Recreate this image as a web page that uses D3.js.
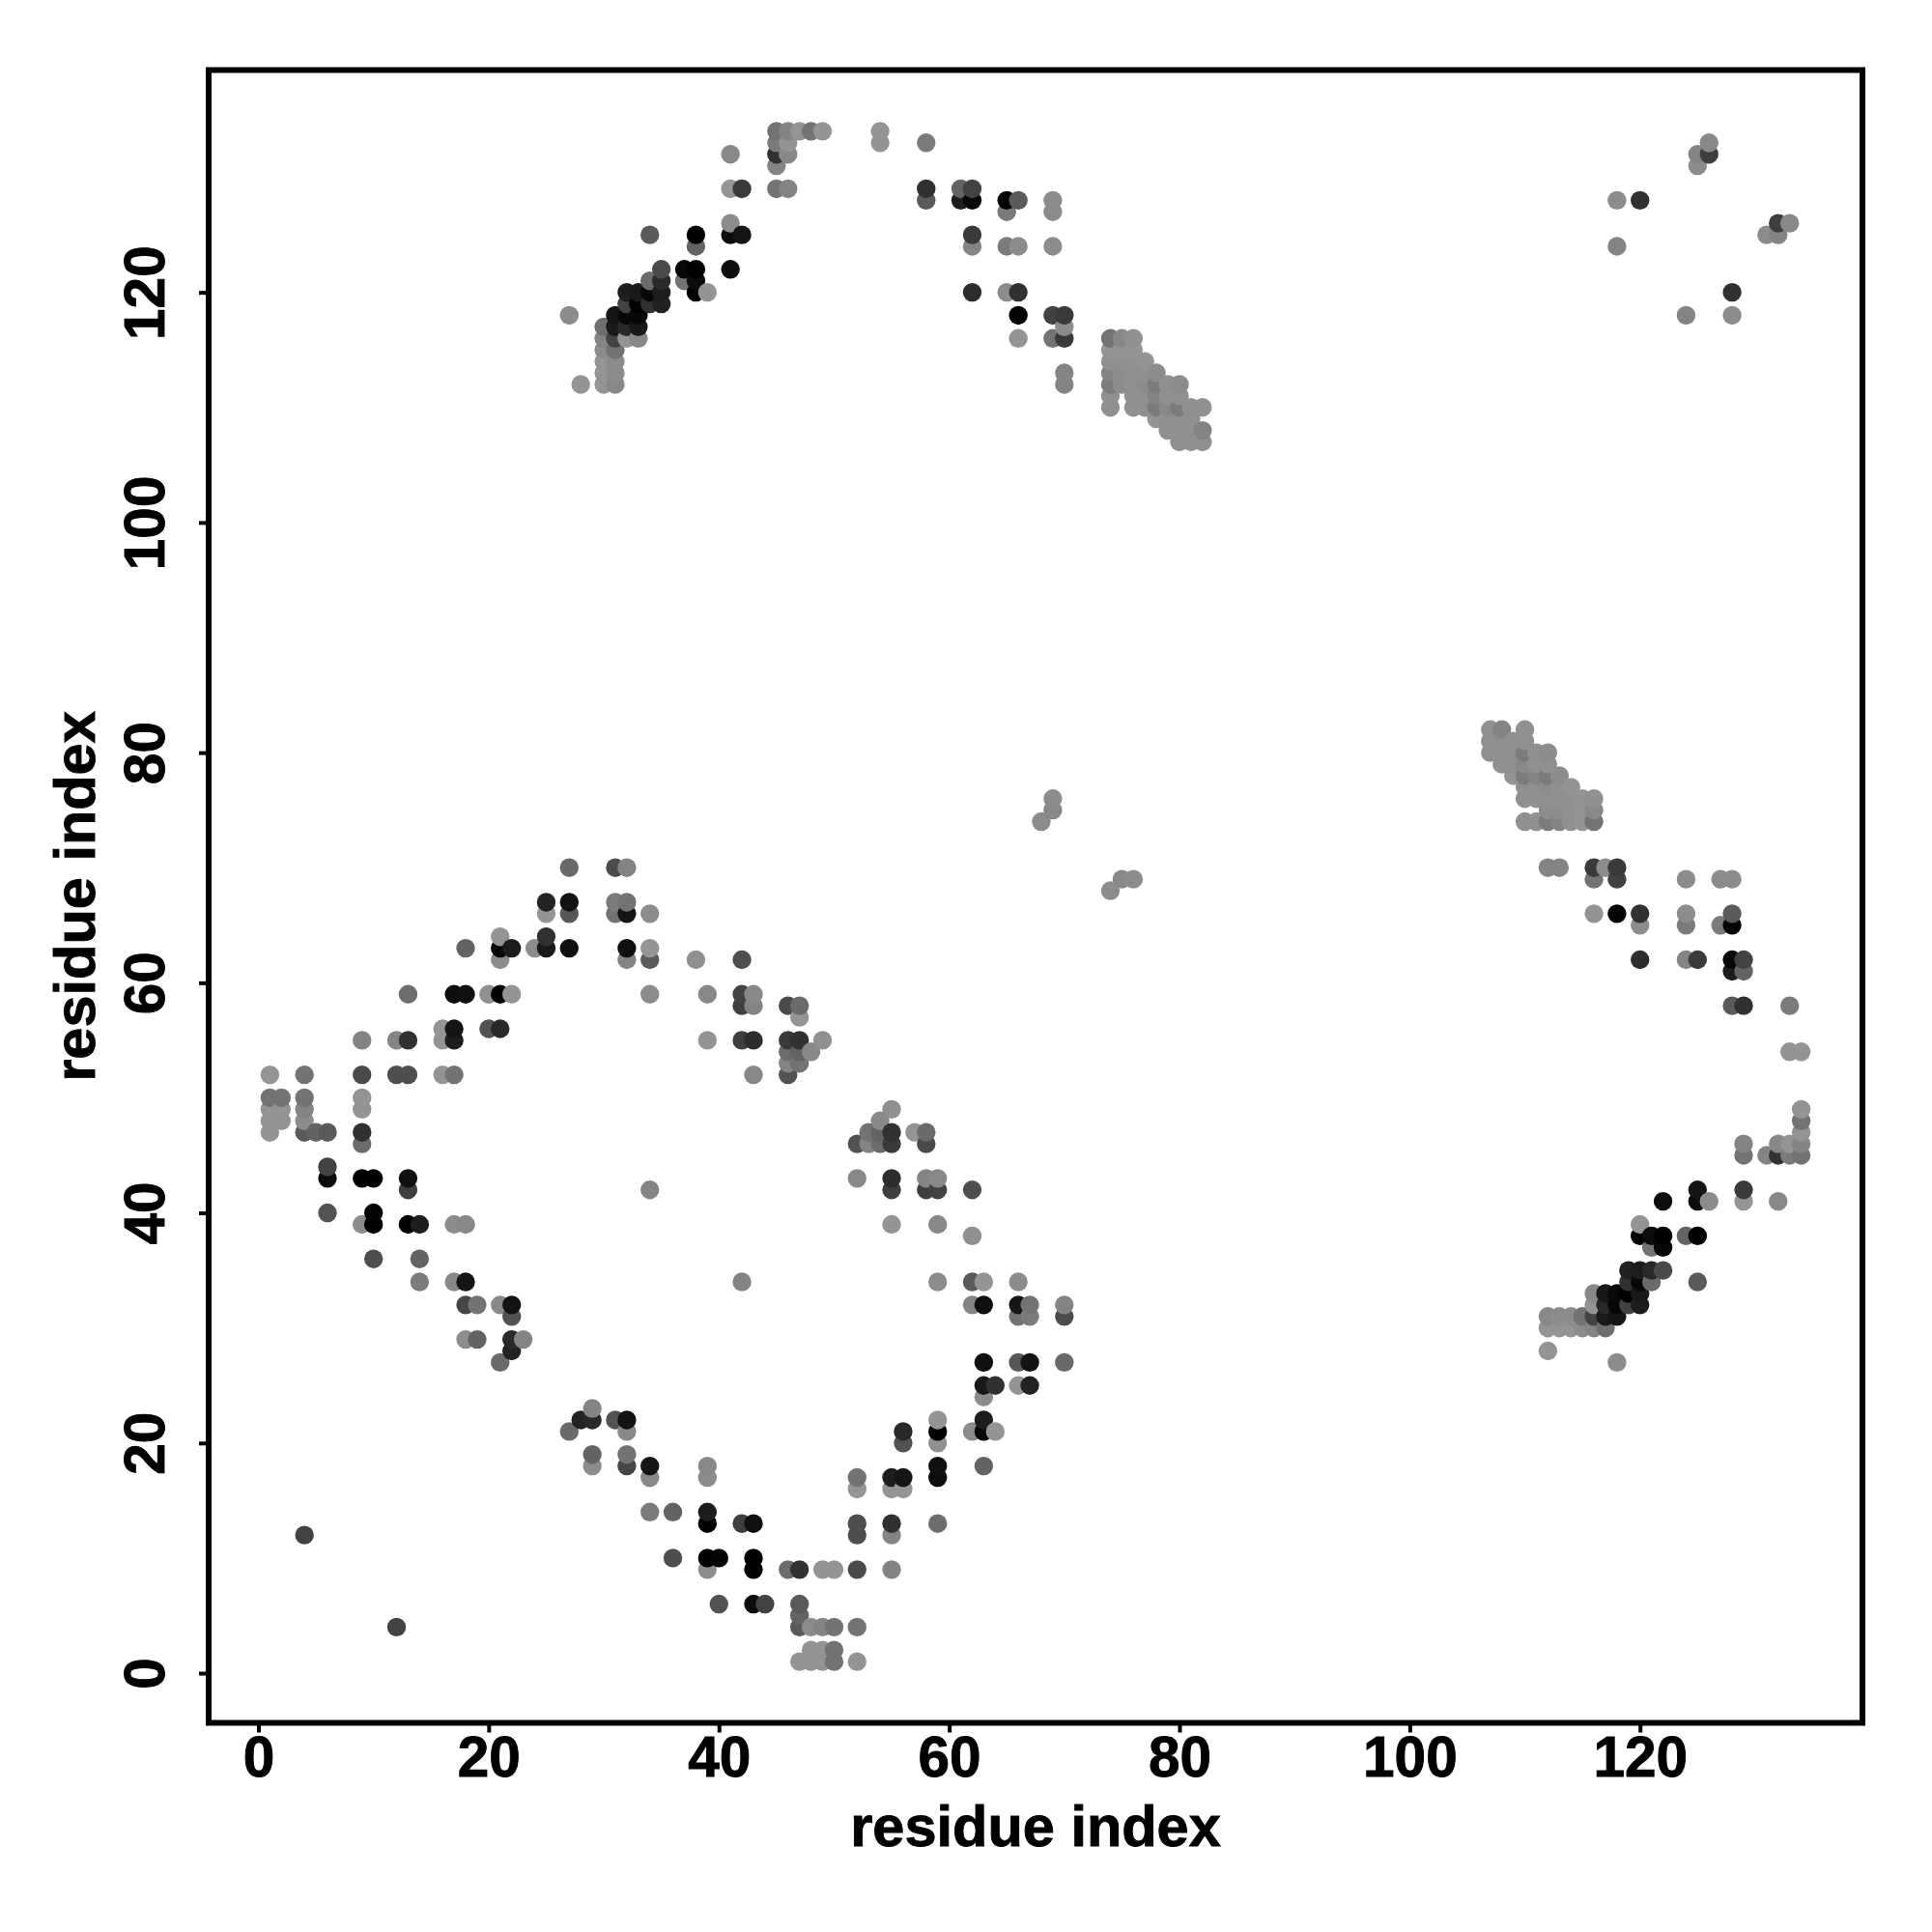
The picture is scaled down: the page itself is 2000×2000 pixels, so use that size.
<!DOCTYPE html>
<html>
<head>
<meta charset="utf-8">
<script src="https://cdnjs.cloudflare.com/ajax/libs/d3/7.8.5/d3.min.js"></script>
<style>html,body{margin:0;padding:0;background:#fff}svg{display:block}</style>
</head>
<body>
<svg id="chart" width="2000" height="2000"></svg>
<script>
// Each entry: [residue i, residue j, contact level] with i < j; the map is symmetric.
// Level runs from 0 (strongest, black) to 0x90 (weakest, lightest gray).
const nTerminalContacts = [
[1,47,0x90],[1,48,0x90],[1,49,0x90],[1,50,0x70],[1,52,0x90],
[2,48,0x90],[2,49,0x90],[2,50,0x70],
[4,12,0x40],[4,47,0x58],[4,48,0x88],[4,49,0x80],[4,50,0x70],[4,52,0x70],
[5,47,0x60],
[6,40,0x50],[6,43,0x0c],[6,44,0x40],[6,47,0x58],
[9,39,0x88],[9,43,0x00],[9,46,0x68],[9,47,0x30],[9,49,0x90],[9,50,0x90],[9,52,0x48],[9,55,0x80],
[10,36,0x4c],[10,39,0x00],[10,40,0x04],[10,43,0x00],
[12,52,0x4c],[12,55,0x80],
[13,39,0x00],[13,42,0x3c],[13,43,0x10],[13,52,0x4c],[13,55,0x30],[13,59,0x6a],
[14,34,0x78],[14,36,0x60],[14,39,0x1c],
[16,52,0x90],[16,55,0x90],[16,56,0x90],
[17,34,0x84],[17,39,0x88],[17,52,0x70],[17,55,0x1c],[17,56,0x14],[17,59,0x0c],
[18,29,0x88],[18,32,0x44],[18,34,0x14],[18,39,0x84],[18,59,0x10],[18,63,0x60],
[19,29,0x60],[19,32,0x70],
[20,56,0x50],[20,59,0x8c],
[21,27,0x68],[21,32,0x84],[21,56,0x28],[21,59,0x00],[21,62,0x88],[21,63,0x08],[21,64,0x90],
[22,28,0x22],[22,29,0x28],[22,31,0x50],[22,32,0x12],[22,59,0x90],[22,63,0x1c],
[23,29,0x80],
[24,63,0x88],
[25,63,0x18],[25,64,0x30],[25,66,0x90],[25,67,0x22],
[27,63,0x10],[27,66,0x55],[27,67,0x12],[27,70,0x66],
[31,66,0x70],[31,67,0x78],[31,70,0x4a],
[32,62,0x80],[32,63,0x10],[32,66,0x15],[32,67,0x70],[32,70,0x80],
[34,42,0x80],[34,59,0x88],[34,62,0x58],[34,63,0x90],[34,66,0x88],
[38,62,0x8c],
[39,55,0x90],[39,59,0x84],
[42,55,0x3c],[42,58,0x3c],[42,59,0x40],[42,62,0x4c],
[43,52,0x84],[43,55,0x2c],[43,58,0x80],[43,59,0x84],
[46,52,0x50],[46,53,0x80],[46,54,0x68],[46,55,0x38],[46,58,0x48],
[47,53,0x70],[47,54,0x60],[47,55,0x30],[47,57,0x90],[47,58,0x68],
[48,54,0x84],
[49,55,0x8c]
];
const hairpinContacts = [
[68,74,0x88],[69,75,0x84],[69,76,0x88]
];
const longRangeContacts = [
[27,118,0x88],[28,112,0x90],
[30,112,0x90],[30,113,0x90],[30,114,0x90],[30,115,0x88],[30,116,0x80],[30,117,0x6c],
[31,112,0x84],[31,113,0x88],[31,114,0x88],[31,115,0x70],[31,116,0x40],[31,117,0x18],[31,118,0x14],
[32,116,0x90],[32,117,0x28],[32,118,0x08],[32,119,0x40],[32,120,0x1c],
[33,116,0x84],[33,117,0x18],[33,118,0x08],[33,119,0x00],[33,120,0x18],
[34,119,0x30],[34,120,0x08],[34,121,0x68],[34,125,0x58],
[35,119,0x20],[35,120,0x1c],[35,121,0x28],[35,122,0x48],
[37,121,0x70],[37,122,0x08],
[38,120,0x02],[38,121,0x0c],[38,122,0x00],[38,124,0x60],[38,125,0x00],
[39,120,0x90],
[41,122,0x0c],[41,125,0x0c],[41,126,0x88],[41,129,0x90],[41,132,0x84],
[42,125,0x14],[42,129,0x38],
[45,129,0x70],[45,131,0x80],[45,132,0x30],[45,133,0x78],[45,134,0x70],
[46,129,0x80],[46,132,0x84],[46,133,0x90],[46,134,0x80],
[47,134,0x90],[48,134,0x70],[49,134,0x90],
[54,133,0x90],[54,134,0x90],
[58,128,0x58],[58,129,0x30],[58,133,0x78],
[61,128,0x1c],[61,129,0x60],
[62,120,0x2c],[62,124,0x80],[62,125,0x38],[62,128,0x08],[62,129,0x40],
[65,120,0x88],[65,124,0x78],[65,127,0x78],[65,128,0x04],
[66,116,0x90],[66,118,0x04],[66,120,0x30],[66,124,0x88],[66,128,0x58],
[69,116,0x70],[69,118,0x40],[69,124,0x88],[69,127,0x88],[69,128,0x88],
[70,112,0x80],[70,113,0x80],[70,116,0x38],[70,117,0x88],[70,118,0x38]
];
const helixBundleContacts = [
[74,110,0x8c],[74,111,0x8c],[74,112,0x78],[74,113,0x80],[74,114,0x8c],[74,115,0x90],[74,116,0x70],
[75,112,0x88],[75,113,0x88],[75,114,0x8c],[75,115,0x90],[75,116,0x84],
[76,110,0x8c],[76,111,0x8c],[76,112,0x8c],[76,113,0x8c],[76,114,0x8c],[76,115,0x90],[76,116,0x8c],
[77,110,0x8c],[77,111,0x8c],[77,112,0x88],[77,113,0x8c],[77,114,0x90],
[78,109,0x90],[78,110,0x78],[78,111,0x80],[78,112,0x78],[78,113,0x88],
[79,108,0x8c],[79,109,0x8c],[79,110,0x84],[79,111,0x8c],[79,112,0x8c],
[80,107,0x8c],[80,108,0x8c],[80,109,0x8c],[80,110,0x78],[80,111,0x8c],[80,112,0x88],
[81,107,0x8c],[81,108,0x8c],[81,109,0x8c],[81,110,0x8c],
[82,107,0x8c],[82,108,0x80],[82,110,0x8c]
];
const cTerminalContacts = [
[118,124,0x80],[118,128,0x88],[120,128,0x30],
[125,131,0x88],[125,132,0x80],[126,132,0x3c],[126,133,0x84]
];
const tickValues = [0, 20, 40, 60, 80, 100, 120];
const axisTitle = "residue index";

const upperHalf = [...nTerminalContacts, ...hairpinContacts, ...longRangeContacts, ...helixBundleContacts, ...cTerminalContacts];
const contacts = upperHalf.flatMap(([i, j, level]) => [{x: i, y: j, level}, {x: j, y: i, level}]);
contacts.sort((a, b) => d3.ascending(a.x, b.x) || d3.ascending(a.y, b.y));

const box = {left: 216, right: 1928, top: 72.5, bottom: 1783.5};
const pad = (134 - 1) * 0.04;
const domain = [1 - pad, 134 + pad];
const x = d3.scaleLinear().domain(domain).range([box.left, box.right]);
const y = d3.scaleLinear().domain(domain).range([box.bottom, box.top]);
const shade = d3.scaleLinear().domain([0, 0x90]).range(["#000000", "#949494"]);

const svg = d3.select("#chart");
const font = "'Liberation Sans', Arial, Helvetica, sans-serif";
const styleText = (sel, size) => sel.attr("fill", "#000").attr("stroke", "#000").attr("stroke-width", 0.9)
  .style("font-family", font).style("font-weight", "bold").style("font-size", size + "px");

svg.append("g").selectAll("circle").data(contacts).join("circle")
  .attr("cx", d => x(d.x)).attr("cy", d => y(d.y)).attr("r", 9.7)
  .attr("fill", d => shade(d.level));

svg.append("rect")
  .attr("x", box.left).attr("y", box.top)
  .attr("width", box.right - box.left).attr("height", box.bottom - box.top)
  .attr("fill", "none").attr("stroke", "#000").attr("stroke-width", 6);

const xAxis = svg.append("g").attr("transform", `translate(0,${box.bottom})`)
  .call(d3.axisBottom(x).tickValues(tickValues).tickSizeOuter(0).tickSize(10).tickPadding(7));
const yAxis = svg.append("g").attr("transform", `translate(${box.left},0)`)
  .call(d3.axisLeft(y).tickValues(tickValues).tickSizeOuter(0).tickSize(10).tickPadding(7));
[xAxis, yAxis].forEach(a => {
  a.select(".domain").remove();
  a.selectAll(".tick line").attr("stroke", "#000").attr("stroke-width", 4);
  styleText(a.selectAll(".tick text"), 58.5);
});
xAxis.selectAll(".tick text").attr("dy", null).attr("y", null)
  .attr("text-anchor", "middle").attr("y", 55);
yAxis.selectAll(".tick text").attr("dy", null).attr("x", null)
  .attr("text-anchor", "middle").attr("transform", "translate(-46,0) rotate(-90)").attr("y", 0);

styleText(svg.append("text").text(axisTitle)
  .attr("x", 1072).attr("y", 1911).attr("text-anchor", "middle"), 59.5);
styleText(svg.append("text").text(axisTitle)
  .attr("transform", "translate(98,928) rotate(-90)").attr("text-anchor", "middle"), 59.5);
</script>
</body>
</html>
